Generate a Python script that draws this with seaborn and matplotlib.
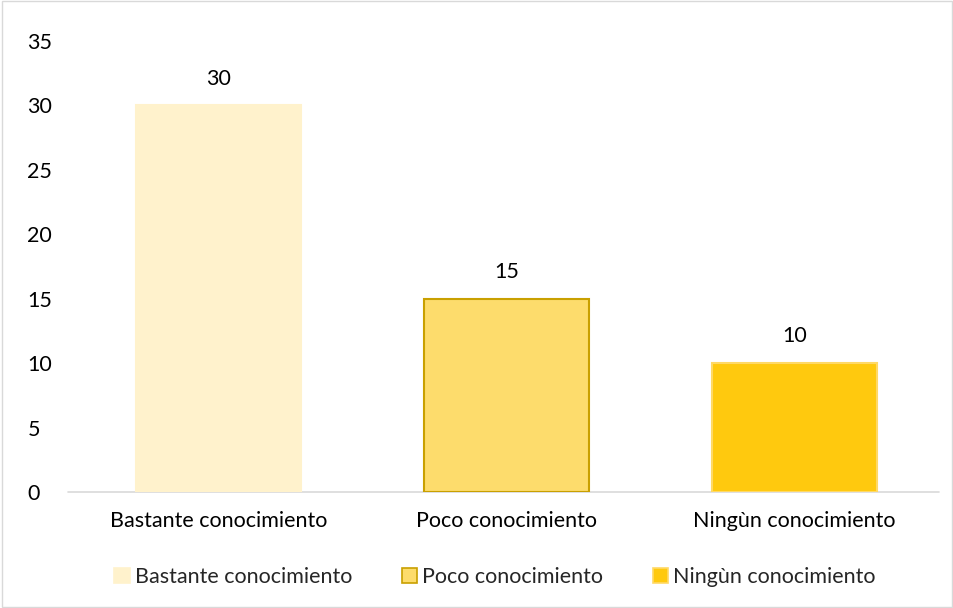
import pandas as pd
import matplotlib
matplotlib.use("Agg")
import matplotlib.pyplot as plt
import seaborn as sns
from matplotlib.patches import Patch

# Data
categories = ["Bastante conocimiento", "Poco conocimiento", "Ningùn conocimiento"]
values = [30, 15, 10]
fill_colors = ["#FFF2CC", "#FDDC6C", "#FFC90E"]
edge_colors = ["#FFF2CC", "#C9A000", "#FFD966"]

df = pd.DataFrame({"Categoria": categories, "Valor": values})

sns.set_style("white")
plt.rcParams["font.family"] = ["Lato", "DejaVu Sans"]
FS = 15.5

fig = plt.figure(figsize=(9.54, 6.08), dpi=100)
ax = fig.add_axes([0.0781, 0.1908, 0.9057, 0.7418])

sns.barplot(data=df, x="Categoria", y="Valor", hue="Categoria",
            palette=fill_colors, saturation=1, width=0.573, legend=False, ax=ax)

for patch, ec in zip(ax.patches, edge_colors):
    patch.set_edgecolor(ec)
    patch.set_linewidth(1.5)

# value labels
for i, v in enumerate(values):
    ax.text(i, v + 1.3, str(v), ha="center", va="bottom", fontsize=FS, color="#000000")

ax.set_ylim(0, 35)
ax.set_yticks(range(0, 36, 5))
ax.set_xlim(-0.5, 2.5)
ax.set_xlabel("")
ax.set_ylabel("")
ax.tick_params(axis="both", labelsize=FS, colors="#000000", length=0)
ax.tick_params(axis="x", pad=14)
ax.tick_params(axis="y", pad=34)
for lbl in ax.get_yticklabels():
    lbl.set_horizontalalignment("left")

for side in ["left", "right", "top", "bottom"]:
    ax.spines[side].set_visible(False)
ax.axhline(0, xmin=-0.008, xmax=1.001, color="#D9D9D9", linewidth=1.2, clip_on=False, zorder=0)

handles = [Patch(facecolor=fc, edgecolor=ec, linewidth=1.2, label=c)
           for c, fc, ec in zip(categories, fill_colors, edge_colors)]
fig.legend(handles=handles, loc="center", bbox_to_anchor=(0.519, 0.051), ncol=3,
           frameon=False, fontsize=FS, handlelength=0.7, handleheight=0.7,
           handletextpad=0.25, columnspacing=2.3)

# outer chart border
fig.patches.append(plt.Rectangle((0.002, 0.002), 0.996, 0.996, transform=fig.transFigure,
                                 fill=False, edgecolor="#D9D9D9", linewidth=1))

fig.savefig("out.png", dpi=100)
